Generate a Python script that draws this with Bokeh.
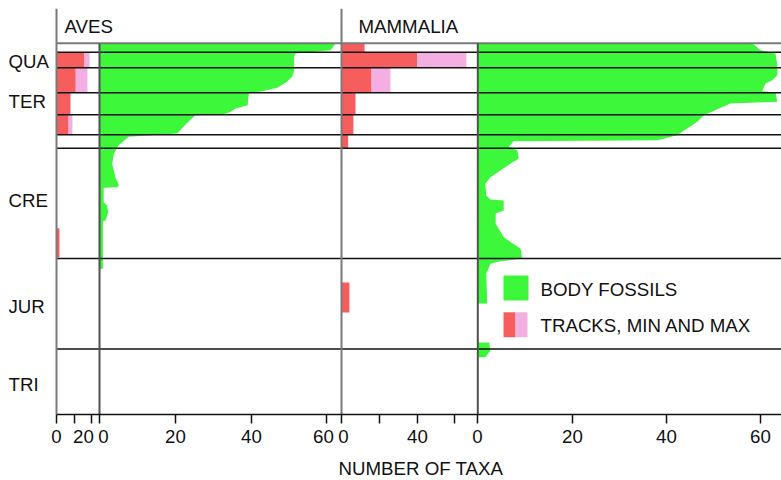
from bokeh.plotting import figure
from bokeh.models import Range1d, LinearAxis, FixedTicker, Title
from bokeh.core.properties import value
from bokeh.embed import file_html
from bokeh.resources import INLINE

# ---------------- data ----------------
# stratigraphic position (depth below the top of the column, chart units)
boundaries = [9, 24.6, 49.6, 71.6, 91.6, 105, 215.3, 305.8]
periods = ["QUA", "TER", "CRE", "JUR", "TRI"]
period_pos = [18.3, 58.3, 157.3, 263, 340.8]

# body fossils (number of taxa), Aves
aves_depth = [0, 7, 10.3, 13.6, 28.6, 33.6, 38.6, 44.6, 48, 50.3, 62, 63.6, 65.3, 68.6, 71.3,
              72, 81.3, 90.3, 93.6, 102.3, 110.6, 120.6, 134, 142.3, 144, 144.6, 159, 162.3,
              169, 177.3, 178, 225.6, 225.7]
aves_count = [62.3, 61.0, 51.7, 51.3, 51.3, 50.8, 49.5, 46.9, 42.9, 39.4, 39.1, 37.6, 35.9, 34.6, 32.8,
              25.3, 22.7, 20.5, 7.7, 5.0, 3.8, 3.35, 4.2, 5.1, 4.7, 1.1, 1.1, 2.0,
              2.3, 1.6, 0.9, 0.9, 0]

# body fossils, Mammalia
mamm_depth = [0, 7, 10.3, 22, 32, 37, 40.3, 45.3, 48, 49.3, 58.6, 60.3, 72, 78.6, 92, 97, 98,
              103.6, 107, 115.3, 120.6, 134, 140.6, 152.3, 156.3, 157.3, 167.3, 170.3, 180.6,
              194, 205.6, 215.6, 218, 220.6, 230.6, 260.3, 260.4, 299.2, 299.3, 307.3, 314, 314.1]
mamm_count = [58.3, 60.0, 63.2, 63.6, 63.6, 62.5, 61.1, 60.6, 60.4, 63.2, 63.6, 53.6, 48.0, 46.6, 42.3, 38.1, 7.6,
              6.6, 8.4, 8.7, 6.9, 2.7, 1.6, 1.8, 2.7, 5.5, 5.5, 3.8, 3.8,
              5.5, 9.1, 9.4, 4.8, 2.7, 1.8, 2.0, 0, 0, 2.4, 2.7, 1.6, 0]

# tracks (min and max number of taxa) per interval
aves_track_top = [9, 24.6, 49.6, 71.6, 185]
aves_track_bottom = [24.6, 49.6, 71.6, 91.6, 214]
aves_track_min = [16, 11, 8, 6.9, 1.7]
aves_track_max = [18.9, 17.7, 8, 9.1, 1.7]

mamm_track_top = [0, 9, 24.6, 49.6, 71.6, 91.6, 239.3]
mamm_track_bottom = [9, 24.6, 49.6, 71.6, 91.6, 105, 269.3]
mamm_track_min = [12.2, 40.2, 15.9, 7.4, 6.3, 3.5, 4.2]
mamm_track_max = [12.2, 66.1, 25.9, 7.4, 6.3, 3.5, 4.2]

# axis ticks / labels for each sub-panel
at_ticks, at_labels = [0, 10, 20], ["0", "", "20"]
ab_ticks, ab_labels = [0, 20, 40, 60], ["0", "20", "40", "60"]
mt_ticks, mt_labels = [0, 20, 40, 60], ["0", "", "40", ""]
mb_ticks, mb_labels = [0, 20, 40, 60], ["0", "20", "40", "60"]

taxa = ["AVES", "MAMMALIA"]
legend_labels = ["BODY FOSSILS", "TRACKS, MIN AND MAX"]

# ---------------- style / layout ----------------
FONT = "Liberation Sans"
FS = "18.7px"
INK = "#111111"
GREEN = "#3cf73a"
RED = "#f65e5e"
PINK = "#f4afe2"
GRAY = "#7a7a7a"

W = 773                  # frame width (px)
TOP, BOTTOM = -34.7, 371.3

# sub-panel placement: zero position (px from frame left) and px per taxon
panels = {
    "at": dict(zero=48, px=1.75, ticks=at_ticks, labels=at_labels, nudge={20: -8}),
    "ab": dict(zero=91, px=3.79, ticks=ab_ticks, labels=ab_labels, nudge={0: 4, 60: -3}),
    "mt": dict(zero=333, px=1.89, ticks=mt_ticks, labels=mt_labels, nudge={0: 2}),
    "mb": dict(zero=469.3, px=4.71, ticks=mb_ticks, labels=mb_labels, nudge={}),
}

p = figure(frame_width=W, frame_height=406,
           x_range=Range1d(0, W), y_range=Range1d(BOTTOM, TOP),
           output_backend="svg", toolbar_location=None,
           x_axis_location=None, y_axis_location=None,
           min_border_left=8, min_border_right=0, min_border_top=8, min_border_bottom=0,
           outline_line_color=None, background_fill_color="white", border_fill_color="white")
p.grid.visible = False

for k, pn in panels.items():
    p.extra_x_ranges[k] = Range1d(-pn["zero"] / pn["px"], (W - pn["zero"]) / pn["px"])

# body fossils
p.harea(x1=[0] * len(aves_depth), x2=aves_count, y=aves_depth, fill_color=GREEN, x_range_name="ab")
p.harea(x1=[0] * len(mamm_depth), x2=mamm_count, y=mamm_depth, fill_color=GREEN, x_range_name="mb")

# tracks
p.quad(left=0, right=aves_track_min, top=aves_track_top, bottom=aves_track_bottom,
       fill_color=RED, line_color=None, x_range_name="at")
p.quad(left=aves_track_min, right=aves_track_max, top=aves_track_top, bottom=aves_track_bottom,
       fill_color=PINK, line_color=None, x_range_name="at")
p.quad(left=0, right=mamm_track_min, top=mamm_track_top, bottom=mamm_track_bottom,
       fill_color=RED, line_color=None, x_range_name="mt")
p.quad(left=mamm_track_min, right=mamm_track_max, top=mamm_track_top, bottom=mamm_track_bottom,
       fill_color=PINK, line_color=None, x_range_name="mt")

# interval boundaries
x0 = panels["at"]["zero"]
p.segment(x0=[x0] * len(boundaries), x1=[W] * len(boundaries), y0=boundaries, y1=boundaries,
          line_color=INK, line_width=1.4)
p.segment(x0=[x0], x1=[W], y0=[0], y1=[0], line_color=GRAY, line_width=2)

# panel frame lines
for k in ("at", "mt"):
    p.segment(x0=[0], x1=[0], y0=[TOP], y1=[BOTTOM], line_color=GRAY, line_width=2, x_range_name=k)
for k in ("ab", "mb"):
    p.segment(x0=[0], x1=[0], y0=[0], y1=[BOTTOM], line_color="#505050", line_width=2, x_range_name=k)

txt = dict(text_font=value(FONT), text_font_size=FS, text_color=INK, text_baseline="middle", text_align="left")
# period labels
p.text(x=[0] * len(periods), y=period_pos, text=periods, **txt)
# taxon headers
p.text(x=[56, 350], y=[-16.7, -16.7], text=taxa, **txt)

# legend
p.rect(x=[507.5], y=[244.8], width=25, height=25, width_units="screen", height_units="screen",
       fill_color=GREEN, line_color=None)
p.rect(x=[501], y=[281.6], width=12, height=25, width_units="screen", height_units="screen",
       fill_color=RED, line_color=None)
p.rect(x=[513], y=[281.6], width=12, height=25, width_units="screen", height_units="screen",
       fill_color=PINK, line_color=None)
p.text(x=[532, 532], y=[246.1, 282.3], text=legend_labels, **txt)

# composite bottom axis
minor, major, overrides = [], [], {}
for k, pn in panels.items():
    for t, lab in zip(pn["ticks"], pn["labels"]):
        minor.append(pn["zero"] + t * pn["px"])
        if lab:
            pos = int(round(pn["zero"] + t * pn["px"] + pn["nudge"].get(t, 0)))
            major.append(pos)
            overrides[pos] = lab

ax = LinearAxis(ticker=FixedTicker(ticks=major, minor_ticks=minor), bounds=(x0, W),
                major_label_overrides=overrides,
                major_tick_line_color=None, major_tick_out=9, major_tick_in=0,
                minor_tick_out=9, minor_tick_in=0, minor_tick_line_color=INK, minor_tick_line_width=1.5,
                axis_line_color=INK, axis_line_width=1.5,
                major_label_text_font=FONT, major_label_text_font_size=FS,
                major_label_text_color=INK, major_label_standoff=6)
p.add_layout(ax, "below")

p.add_layout(Title(text="NUMBER OF TAXA", align="left", offset=330, text_font=FONT,
                   text_font_size=FS, text_font_style="normal", text_color=INK, standoff=21), "below")

open("out.html", "w").write(file_html(p, INLINE))
